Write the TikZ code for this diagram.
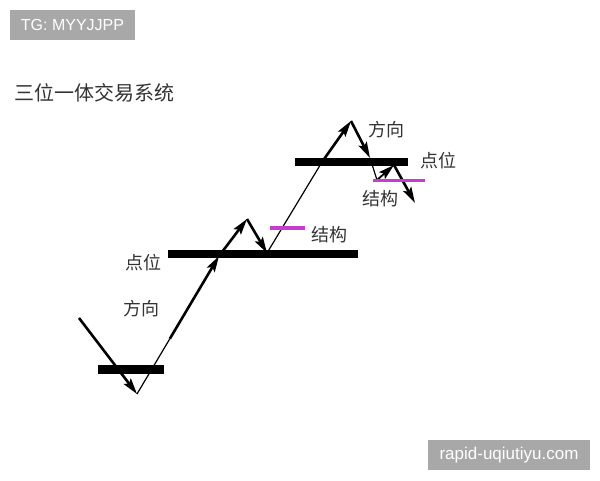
\documentclass[tikz,border=0pt]{standalone}
\usepackage{fontspec}
\setmainfont{Liberation Sans}
\newfontfamily\cjk{Noto Sans CJK SC}
\usetikzlibrary{arrows.meta,calc}
\definecolor{bandpink}{RGB}{200,60,205}
\definecolor{stampgray}{RGB}{168,168,168}

\begin{document}
\begin{tikzpicture}[x=1pt,y=-1pt,
  level/.style={line width=8.5pt},
  trend/.style={line width=2.6pt,-{Stealth[length=16pt,width=9pt,inset=3pt]}},
  leg/.style={line width=1.2pt},
  band/.style={bandpink,line width=4pt},
  tag/.style={font=\cjk\fontsize{18}{18}\selectfont,text=black!80,inner sep=0pt},
  stamp/.style={fill=stampgray,text=white,inner sep=0pt,minimum height=30pt}]

  \useasboundingbox (0,0) rectangle (600,480);

  % watermarks and title
  \node[stamp,minimum width=125pt,font=\fontsize{16}{16}\selectfont] (tg) at (72.5,25) {TG: MYYJJPP};
  \node[stamp,minimum width=162pt,font=\fontsize{17}{17}\selectfont] (site) at (509,455) {rapid-uqiutiyu.com};
  \node[tag,font=\cjk\fontsize{20}{20}\selectfont] (title) at (94,93) {三位一体交易系统};

  % price levels
  \draw[level] (98,369.5) -- (164,369.5);
  \draw[level] (168,254) -- (358,254);
  \draw[level] (295,162) -- (408,162);

  % turning points
  \coordinate (s0) at (79,318);
  \coordinate (b0) at (137,394);
  \coordinate (m1) at (219,256);
  \coordinate (p1) at (247,219);
  \coordinate (m2) at (267,253);
  \coordinate (t1) at (322,162);
  \coordinate (p2) at (351,121);
  \coordinate (t2) at (370,158);
  \coordinate (v2) at (377,180);
  \coordinate (u2) at (394,165);
  \coordinate (e2) at (415,203);
  \coordinate (h1) at ($(b0)!0.4!(m1)$);

  \draw[trend] (s0) -- (b0);
  \draw[leg] (b0) -- (h1);
  \draw[trend] (h1) -- (m1);
  \draw[trend] (m1) -- (p1);
  \draw[trend] (p1) -- (m2);
  \draw[leg] (m2) -- (t1);
  \draw[trend] (t1) -- (p2);
  \draw[trend] (p2) -- (t2);
  \draw[leg] (t2) -- (v2);
  \draw[trend,line width=1.8pt] (v2) -- (u2);
  \draw[trend] (u2) -- (e2);

  % structure marks
  \draw[band] (270,228) -- (305,228);
  \draw[band,line width=3pt] (373,180) -- (425,180);

  % labels
  \node[tag] (dir1) at (141,309) {方向};
  \node[tag] (pt1) at (143,263) {点位};
  \node[tag] (st1) at (329,235) {结构};
  \node[tag] (dir2) at (386,130) {方向};
  \node[tag] (pt2) at (438,161) {点位};
  \node[tag] (st2) at (380,199) {结构};
\end{tikzpicture}
\end{document}
